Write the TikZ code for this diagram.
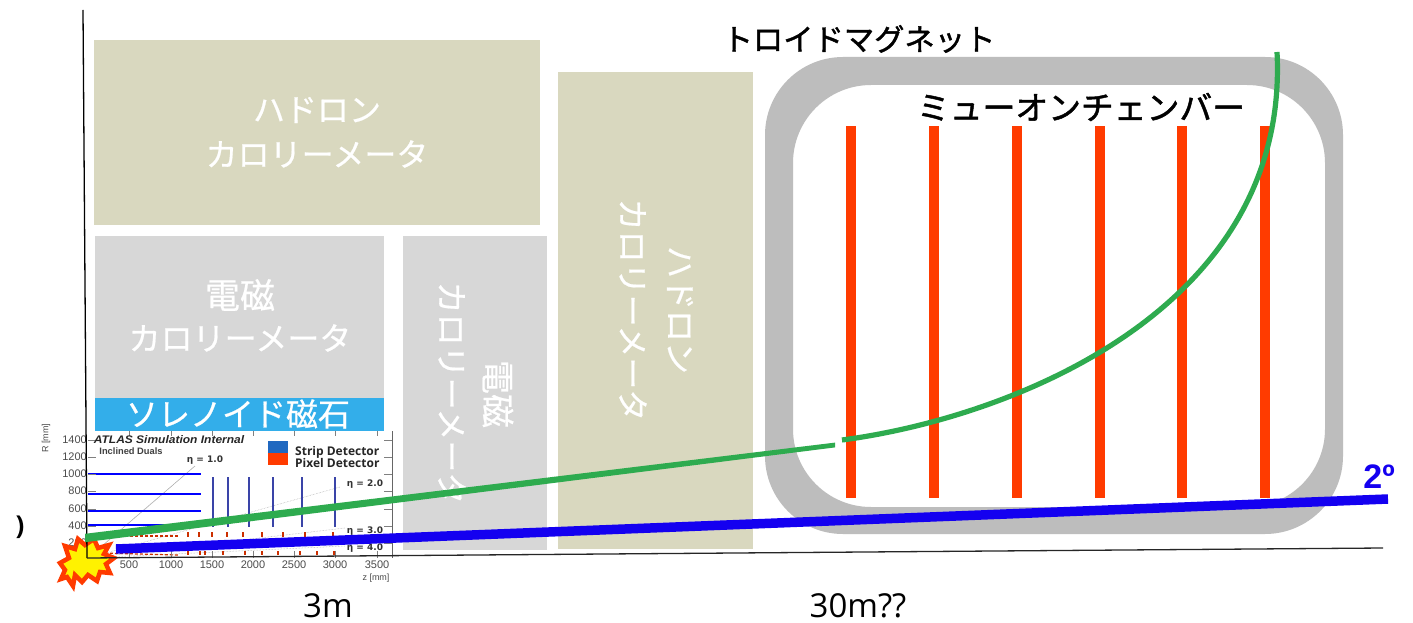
\documentclass[tikz,border=0pt]{standalone}
\usepackage{fontspec}
\usetikzlibrary{calc}
\setmainfont{Liberation Sans}
\newfontfamily\jp[FakeBold=0.6]{Noto Sans CJK JP}
\newfontfamily\jpb[FakeBold=1.4]{Noto Sans CJK JP}
\newfontfamily\lat{Open Sans}
\definecolor{hadron}{HTML}{D9D8BF}
\definecolor{emcal}{HTML}{D7D7D7}
\definecolor{solenoid}{HTML}{33AEEA}
\definecolor{magnet}{HTML}{BDBDBD}
\definecolor{chamber}{HTML}{FF3B00}
\definecolor{track}{HTML}{2EAB4F}
\definecolor{beam}{HTML}{1400F0}
\definecolor{strip}{HTML}{3A44A8}
\definecolor{legblue}{HTML}{2068C0}
\newcommand{\fsz}[1]{\fontsize{#1}{#1}\selectfont}
\tikzset{
  x=1pt,y=-1pt,
  panel/.style={inner sep=0,anchor=center},
  whitelabel/.style={panel,text=white,font=\jp\fsz{32},align=center},
  blacklabel/.style={panel,text=black,font=\jpb\fsz{32}},
  ticklabel/.style={panel,text=black!70,font=\fsz{11}},
  etalabel/.style={panel,text=black!80,font=\bfseries\fsz{9}},
  chamberbar/.style={fill=chamber,draw=none},
  stripbar/.style={draw=strip,line width=2.8pt},
  barrel/.style={draw=blue,line width=2.4pt},
  etaline/.style={draw=black!35,line width=0.5pt,densely dotted},
  pixmark/.style={draw=chamber!80!black,line width=1.2pt},
  tickmark/.style={draw=black!50,line width=0.5pt},
}
\begin{document}
\begin{tikzpicture}
\useasboundingbox (0,0) rectangle (1413,623);
\fill[white] (0,0) rectangle (1413,623);

% calorimeter blocks
\fill[hadron] (94,40) rectangle (540,225);
\fill[hadron] (558,72) rectangle (753,549);
\fill[emcal] (95,236) rectangle (384,400);
\fill[emcal] (403,236) rectangle (547,550);
\fill[solenoid] (95,398) rectangle (384,431);

\node[whitelabel] (had1a) at (317,110) {ハドロン};
\node[whitelabel] (had1b) at (317,154) {カロリーメータ};
\node[whitelabel,font=\jp\fsz{35}] (em1a) at (240,295) {電磁};
\node[whitelabel] (em1b) at (240,338) {カロリーメータ};
\node[whitelabel] (sol) at (238,414) {ソレノイド磁石};
\node[whitelabel,rotate=-90] (had2a) at (680,310) {ハドロン};
\node[whitelabel,rotate=-90] (had2b) at (633,310) {カロリーメータ};
\node[whitelabel,rotate=-90,font=\jp\fsz{34}] (em2a) at (498,394) {電磁};
\node[whitelabel,rotate=-90] (em2b) at (452,393) {カロリーメータ};

% toroid magnet ring
\fill[magnet,even odd rule,rounded corners=78pt]
  (765,57) rectangle (1343,534)
  (793,85) rectangle (1325,507);

% muon chambers
\foreach \cx in {851,934,1017,1100,1182,1265}
  \fill[chamberbar] (\cx-5,126) rectangle (\cx+5,498);

\node[blacklabel,font=\jpb\fsz{30.3}] (toroid) at (859,39) {トロイドマグネット};
\node[blacklabel,font=\jpb\fsz{32.8}] (muon) at (1081,107) {ミューオンチェンバー};

% tracker layout plot
\fill[white] (88,431) rectangle (392,558);
\foreach \ex/\ey in {195/466,340/487,345/528,345/546}
  \draw[etaline] (88,558) -- (\ex,\ey);
\draw[draw=black!30,line width=.5pt] (88,558) -- (195,466);
\foreach \ry in {474,494,511,525}
  \draw[barrel] (88,\ry) -- (201,\ry);
\foreach \sx in {213,228,249,273,302,335}
  \draw[stripbar] (\sx,477) -- (\sx,527);
\foreach \mx in {188,199,212,227,243,262,283,305,333}
  \draw[pixmark] (\mx,532) -- (\mx,537);
\foreach \mx in {188,200,205,223,245,262,278,300,317,334}
  \draw[pixmark] (\mx,551) -- (\mx,555);
\draw[pixmark,densely dashed] (100,536) -- (178,536);
\draw[pixmark,densely dashed] (100,553) -- (178,555);
\draw[black!60,line width=.6pt] (392,431) -- (392,558);
\foreach \ty in {440,457,474,491,509,526,543}{
  \draw[tickmark] (88,\ty) -- (96,\ty);
  \draw[tickmark] (392,\ty) -- (384,\ty);
}
\foreach \tx in {129,171,212,253,294,335,377}{
  \draw[tickmark] (\tx,558) -- (\tx,551);
  \draw[tickmark] (\tx,431) -- (\tx,436);
}
\foreach \ty/\lab in {440/1400,457/1200,474/1000,491/800,509/600,526/400,543/200}
  \node[ticklabel,anchor=east] (r\lab) at (87,\ty) {\lab};
\foreach \tx/\lab in {129/500,171/1000,212/1500,253/2000,294/2500,335/3000,377/3500}
  \node[ticklabel] (z\lab) at (\tx,565) {\lab};
\node[ticklabel,rotate=90,font=\fsz{9}] (raxis) at (46,438) {R [mm]};
\node[ticklabel,font=\fsz{9}] (zaxis) at (376,578) {z [mm]};
\node[panel,font=\bfseries\itshape\fsz{11},xscale=1.09,text=black!85] (atlas) at (169,440) {ATLAS Simulation Internal};
\node[panel,font=\bfseries\fsz{9.3},text=black!75] (duals) at (131,451) {Inclined Duals};
\node[etalabel] (eta1) at (205,460) {\fontspec{DejaVu Sans}η = 1.0};
\node[etalabel] (eta2) at (365,484) {\fontspec{DejaVu Sans}η = 2.0};
\node[etalabel] (eta3) at (365,531) {\fontspec{DejaVu Sans}η = 3.0};
\node[etalabel] (eta4) at (365,548) {\fontspec{DejaVu Sans}η = 4.0};
\fill[legblue] (268,441) rectangle (288,453);
\fill[chamber] (268,453) rectangle (288,465);
\node[panel,anchor=west,font=\lat\bfseries\fsz{12},text=black!85] (stripleg) at (295,452) {Strip Detector};
\node[panel,anchor=west,font=\lat\bfseries\fsz{12},text=black!85] (pixleg) at (295,463) {Pixel Detector};

% interaction point burst
\draw[draw=chamber,fill=yellow,line width=4.5pt,line join=miter,miter limit=3]
  (60,563) -- (69,558) -- (65,546) -- (75,549) -- (78,539) -- (85,545) -- (94,539)
  -- (98,548) -- (109,545) -- (104,554) -- (114,558) -- (106,564) -- (110,573)
  -- (100,572) -- (97,581) -- (88,575) -- (82,582) -- (75,575) -- (73,586) -- (67,577) -- (61,579) -- (65,570) -- cycle;

% axes
\coordinate (origin) at (87,558);
\coordinate (ytop) at (83,10);
\coordinate (xend) at (1383,548);
\draw[black,line width=1.3pt] (ytop) -- (origin);
\draw[black!85,line width=1.3pt] (origin) -- (xend);

% charged track bent by the toroid, and the straight high-momentum track
\coordinate (tstart) at (85,538);
\coordinate (tgap) at (835,445);
\coordinate (tresume) at (842,440);
\coordinate (tend) at (1277,52);
\fill[track] ($(tstart)+(0,-4.2)$) -- ($(tgap)+(0,-2.4)$) -- ($(tgap)+(0,2.4)$) -- ($(tstart)+(0,4.2)$) -- cycle;
\draw[track,line width=5.2pt] (tresume) .. controls (1010,418) and (1290,310) .. (tend);
\coordinate (bstart) at (116,549);
\coordinate (bend) at (1388,499);
\draw[beam,line width=9.5pt] (bstart) -- (bend);

\node[panel,font=\bfseries\fsz{34},text=beam] (angle) at (1379,477) {2º};
\node[panel,font=\lat\fsz{33}] (three) at (328,606) {3m};
\node[panel,font=\lat\fsz{33}] (thirty) at (858,606) {30m??};
\node[panel,font=\lat\bfseries\fsz{26}] (paren) at (20,527) {)};
\end{tikzpicture}
\end{document}
